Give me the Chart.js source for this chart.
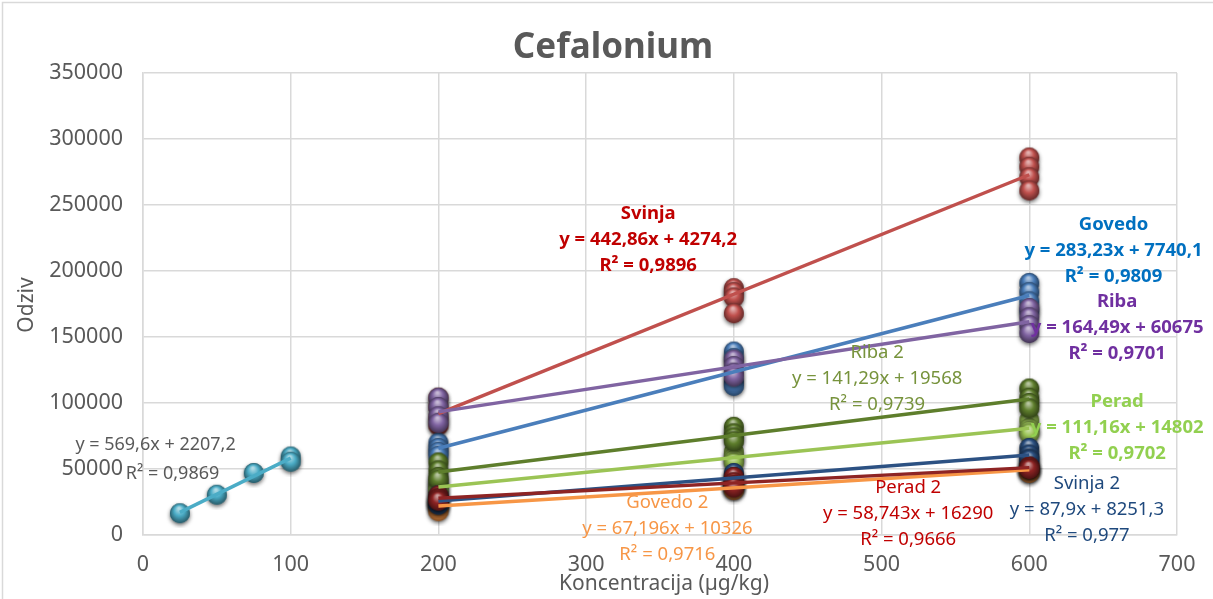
<!DOCTYPE html>
<html>
<head>
<meta charset="utf-8">
<script src="https://cdn.jsdelivr.net/npm/chart.js@4.4.1/dist/chart.umd.min.js"></script>
<style>
html, body { margin: 0; padding: 0; background: #fff; }
#wrap { width: 1213px; height: 599px; position: relative; }
</style>
</head>
<body>
<div id="wrap"><canvas id="myChart" width="1213" height="599"></canvas></div>
<script>
// x levels (concentration) and replicate responses per level
const xLevels = [200, 400, 600];

const svinja  = [[104000, 97000, 89000, 83000], [187000, 184000, 180000, 168000], [286000, 279000, 271000, 261000]];
const govedo  = [[70000, 66000, 63000, 60000],  [139000, 134000, 116000, 113000], [191000, 184000, 177000, 170000]];
const riba    = [[104000, 97000, 90000, 85000], [133000, 128000, 123000, 120000], [172000, 165000, 159000, 153000]];
const riba2   = [[55000, 49000, 44000, 42000],  [82000, 77000, 74000, 71000],     [111000, 104000, 100000, 96000]];
const perad   = [[40000, 37000, 35000, 34000],  [63000, 59000, 57000, 55000],     [87000, 81000, 79000, 77000]];
const svinja2 = [[30000, 26000, 24000, 23000],  [47000, 44000, 42000, 40000],     [66000, 61000, 58000, 57000]];
const perad2  = [[30000, 28000, 27000, 26000],  [44000, 40000, 38000, 36000],     [52000, 51000, 51000, 50000]];
const govedo2 = [[25000, 23000, 21000, 18000],  [38000, 37000, 36000, 34000],     [52000, 50000, 48000, 47000]];

const cyanX = [25, 50, 75, 100, 100];
const cyanY = [16500, 30500, 47000, 59500, 55500];

const xTicks = [0, 100, 200, 300, 400, 500, 600, 700];
const yTicks = [0, 50000, 100000, 150000, 200000, 250000, 300000, 350000];

// trendline label texts
const labelTexts = {
  svinja:  ['Svinja', 'y = 442,86x + 4274,2', 'R² = 0,9896'],
  govedo:  ['Govedo', 'y = 283,23x + 7740,1', 'R² = 0,9809'],
  riba:    ['Riba', 'y = 164,49x + 60675', 'R² = 0,9701'],
  riba2:   ['Riba 2', 'y = 141,29x + 19568', 'R² = 0,9739'],
  perad:   ['Perad', 'y = 111,16x + 14802', 'R² = 0,9702'],
  svinja2: ['Svinja 2', 'y = 87,9x + 8251,3', 'R² = 0,977'],
  perad2:  ['Perad 2', 'y = 58,743x + 16290', 'R² = 0,9666'],
  govedo2: ['Govedo 2', 'y = 67,196x + 10326', 'R² = 0,9716']
};

/*----------------------------------------------------*/

function shade(hex, amt) {
  // amt > 0 -> towards white, amt < 0 -> towards black
  let r = parseInt(hex.slice(1, 3), 16), g = parseInt(hex.slice(3, 5), 16), b = parseInt(hex.slice(5, 7), 16);
  const t = amt < 0 ? 0 : 255, p = Math.abs(amt);
  r = Math.round(r + (t - r) * p); g = Math.round(g + (t - g) * p); b = Math.round(b + (t - b) * p);
  return 'rgb(' + r + ',' + g + ',' + b + ')';
}

// little 3d ball like excel markers
function ball(color) {
  const c = document.createElement('canvas');
  c.width = 30; c.height = 30;
  const g = c.getContext('2d');
  const cx = 15, cy = 15, r = 10;
  g.save();
  g.shadowColor = 'rgba(0,0,0,0.6)';
  g.shadowBlur = 4;
  g.shadowOffsetY = 2;
  g.beginPath(); g.arc(cx, cy, r, 0, Math.PI * 2);
  g.fillStyle = shade(color, -0.35); g.fill();
  g.restore();
  const grad = g.createRadialGradient(cx - 1, cy - 5, 1, cx, cy, r * 1.05);
  grad.addColorStop(0, shade(color, 0.55));
  grad.addColorStop(0.45, color);
  grad.addColorStop(1, shade(color, -0.5));
  g.beginPath(); g.arc(cx, cy, r, 0, Math.PI * 2);
  g.fillStyle = grad; g.fill();
  return c;
}

function fit(xs, ys) {
  const n = xs.length;
  const mx = xs.reduce((a, b) => a + b, 0) / n, my = ys.reduce((a, b) => a + b, 0) / n;
  let sxy = 0, sxx = 0;
  for (let i = 0; i < n; i++) { sxy += (xs[i] - mx) * (ys[i] - my); sxx += (xs[i] - mx) ** 2; }
  const k = sxy / sxx;
  return { k: k, n: my - k * mx };
}

function toPoints(levels) {
  const pts = [];
  levels.forEach((reps, i) => reps.forEach(v => pts.push({ x: xLevels[i], y: v })));
  return pts;
}

// drawing sequence: first = bottom
const series = [
  { key: 'svinja',  data: toPoints(svinja),  color: '#C0504D' },
  { key: 'govedo',  data: toPoints(govedo),  color: '#4A7EBB' },
  { key: 'riba',    data: toPoints(riba),    color: '#8064A2' },
  { key: 'perad',   data: toPoints(perad),   color: '#9BC455' },
  { key: 'riba2',   data: toPoints(riba2),   color: '#5E7E2C' },
  { key: 'govedo2', data: toPoints(govedo2), color: '#F79646' },
  { key: 'svinja2', data: toPoints(svinja2), color: '#2C5183' },
  { key: 'perad2',  data: toPoints(perad2),  color: '#8E2424' },
  { key: 'cyan',    data: cyanX.map((x, i) => ({ x: x, y: cyanY[i] })), color: '#4BACC6' }
];

const datasets = [];
series.forEach((s, i) => {
  datasets.push({
    type: 'scatter',
    label: s.key,
    data: s.data,
    pointStyle: ball(s.color),
    pointRadius: 10,
    showLine: false,
    order: 100 - i
  });
  const xs = s.data.map(p => p.x), ys = s.data.map(p => p.y);
  const f = fit(xs, ys);
  const x0 = Math.min.apply(null, xs), x1 = Math.max.apply(null, xs);
  datasets.push({
    type: 'line',
    label: s.key + ' trend',
    data: [{ x: x0, y: f.k * x0 + f.n }, { x: x1, y: f.k * x1 + f.n }],
    borderColor: s.color,
    borderWidth: 3.5,
    pointRadius: 0,
    order: 10 - i * 0.1
  });
});

// label placement in data units: [x, y of middle line]
const labelPlaces = [
  { key: 'svinja',  x: 342, y: 223800, color: '#C00000', bold: true },
  { key: 'govedo',  x: 657, y: 215500, color: '#0070C0', bold: true },
  { key: 'riba',    x: 659.5, y: 157000, color: '#7030A0', bold: true },
  { key: 'riba2',   x: 497, y: 118400, color: '#77933C', bold: false },
  { key: 'perad',   x: 659.5, y: 81200, color: '#92D050', bold: true },
  { key: 'svinja2', x: 639, y: 19000, color: '#1F497D', bold: false },
  { key: 'perad2',  x: 518, y: 15900, color: '#C00000', bold: false },
  { key: 'govedo2', x: 355, y: 4550, color: '#F79646', bold: false }
];

const textPlugin = {
  id: 'texts',
  beforeDraw(chart) {
    const ctx = chart.ctx;
    ctx.save();
    ctx.strokeStyle = '#D9D9D9';
    ctx.lineWidth = 1.5;
    ctx.beginPath();
    ctx.moveTo(2.5, 599); ctx.lineTo(2.5, 2.5); ctx.lineTo(1213, 2.5);
    ctx.stroke();
    ctx.restore();
  },
  afterDraw(chart) {
    const ctx = chart.ctx, xs = chart.scales.x, ys = chart.scales.y;
    ctx.save();
    ctx.textAlign = 'center';
    ctx.textBaseline = 'middle';

    ctx.fillStyle = '#595959';
    ctx.font = 'bold 35px "Noto Sans"';
    ctx.fillText('Cefalonium', 613, 48);

    ctx.font = '21px "Noto Sans"';
    ctx.fillText('Koncentracija (µg/kg)', 664, 584);
    ctx.save();
    ctx.translate(27, 305);
    ctx.rotate(-Math.PI / 2);
    ctx.fillText('Odziv', 0, 0);
    ctx.restore();

    labelPlaces.forEach(l => {
      const px = xs.getPixelForValue(l.x), py = ys.getPixelForValue(l.y);
      ctx.fillStyle = l.color;
      ctx.font = (l.bold ? 'bold ' : '') + (l.bold ? '18.5px' : '18.5px') + ' "Noto Sans"';
      labelTexts[l.key].forEach((t, i) => ctx.fillText(t, px, py + (i - 1) * 26));
    });

    ctx.fillStyle = '#595959';
    ctx.font = '18px "Noto Sans"';
    ctx.fillText('y = 569,6x + 2207,2', xs.getPixelForValue(8.5), ys.getPixelForValue(68200));
    ctx.fillText('R² = 0,9869', xs.getPixelForValue(20), ys.getPixelForValue(46300));
    ctx.restore();
  }
};

new Chart(document.getElementById('myChart'), {
  data: { datasets: datasets },
  options: {
    responsive: false,
    animation: false,
    layout: { padding: { top: 73, right: 36, left: 0, bottom: 0 } },
    plugins: { legend: { display: false }, tooltip: { enabled: false } },
    scales: {
      x: {
        type: 'linear',
        min: 0, max: 700,
        afterBuildTicks: s => { s.ticks = xTicks.map(v => ({ value: v })); },
        afterFit: s => { s.height = 64; },
        grid: { color: '#D9D9D9', lineWidth: 1.5, drawTicks: false },
        border: { color: '#D9D9D9', width: 1.5 },
        ticks: { color: '#595959', font: { family: 'Noto Sans', size: 21.5 }, padding: 17, maxRotation: 0 }
      },
      y: {
        type: 'linear',
        min: 0, max: 350000,
        afterBuildTicks: s => { s.ticks = yTicks.map(v => ({ value: v })); },
        afterFit: s => { s.width = 143; },
        grid: { color: '#D9D9D9', lineWidth: 1.5, drawTicks: false },
        border: { color: '#D9D9D9', width: 1.5 },
        ticks: { color: '#595959', font: { family: 'Noto Sans', size: 21.5 }, padding: 20, callback: v => String(v) }
      }
    }
  },
  plugins: [textPlugin]
});
</script>
</body>
</html>
